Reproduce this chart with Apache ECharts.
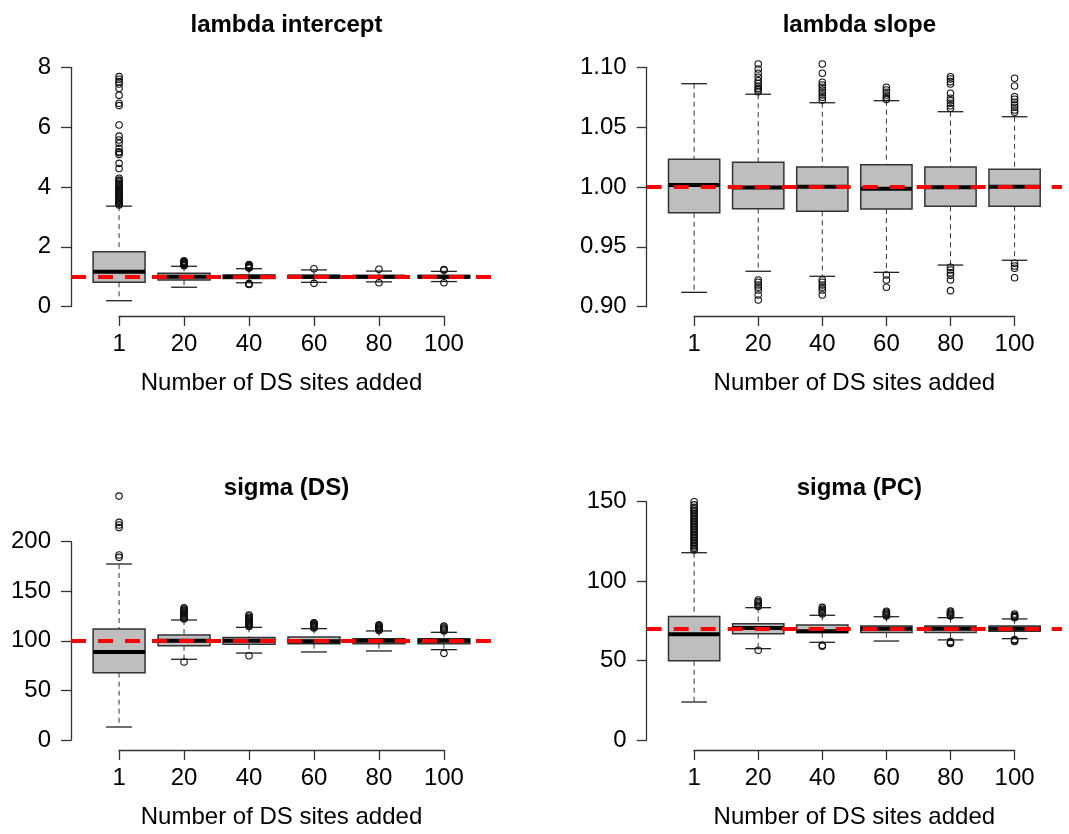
<!DOCTYPE html>
<html>
<head>
<meta charset="utf-8">
<script src="https://cdn.jsdelivr.net/npm/echarts@6/dist/echarts.min.js"></script>
<style>
html,body{margin:0;padding:0;background:#fff;}
#chart{width:1069px;height:834px;}
</style>
</head>
<body>
<div id="chart"></div>
<script>
// ---------------- DATA ----------------
const categories = ["1", "20", "40", "60", "80", "100"];
const panelTitles = ["lambda intercept", "lambda slope", "sigma (DS)", "sigma (PC)"];
const xAxisTitle = "Number of DS sites added";

// box statistics per category: [lower whisker, Q1, median, Q3, upper whisker]
const lambdaInterceptStats = [
  [0.20, 0.815, 1.17, 1.84, 3.36],
  [0.65, 0.89, 1.00, 1.12, 1.35],
  [0.80, 0.94, 1.00, 1.06, 1.27],
  [0.815, 0.95, 1.00, 1.05, 1.23],
  [0.83, 0.96, 1.00, 1.04, 1.19],
  [0.84, 0.96, 1.00, 1.04, 1.18]
];
const lambdaInterceptOutliers = [
  [3.40, 3.43, 3.46, 3.49, 3.52, 3.55, 3.58, 3.62, 3.66, 3.70, 3.73, 3.77, 3.81, 3.84, 3.88, 3.92, 3.96, 4.00, 4.04, 4.07, 4.12, 4.18, 4.23, 4.29, 4.62, 4.79, 5.09, 5.15, 5.18, 5.29, 5.46, 5.57, 5.70, 6.07, 6.72, 6.80, 7.07, 7.30, 7.44, 7.52, 7.60, 7.69],
  [1.37, 1.39, 1.41, 1.43, 1.45, 1.47, 1.49, 1.51, 1.53],
  [1.29, 1.31, 1.33, 1.35, 1.37, 1.39, 1.41, 0.77, 0.75, 0.74],
  [1.27, 0.78],
  [1.25, 0.80],
  [1.22, 1.24, 0.80]
];

const lambdaSlopeStats = [
  [0.9120, 0.9785, 1.0017, 1.0231, 1.0863],
  [0.9296, 0.9819, 0.9995, 1.0206, 1.0775],
  [0.9254, 0.9797, 1.0003, 1.0167, 1.0704],
  [0.9287, 0.9816, 0.9986, 1.0186, 1.0721],
  [0.9348, 0.9839, 0.9997, 1.0167, 1.0629],
  [0.9388, 0.9839, 1.0003, 1.0148, 1.0587]
];
const lambdaSlopeOutliers = [
  [],
  [1.0796, 1.0810, 1.0824, 1.0844, 1.0866, 1.0888, 1.0917, 1.0950, 1.0986, 1.1028, 0.9223, 0.9204, 0.9181, 0.9162, 0.9140, 0.9098, 0.9056],
  [1.0727, 1.0749, 1.0769, 1.0791, 1.0810, 1.0833, 1.0852, 1.0875, 1.0950, 1.1028, 0.9223, 0.9204, 0.9181, 0.9162, 0.9140, 0.9098],
  [1.0732, 1.0749, 1.0769, 1.0791, 1.0810, 1.0833, 0.9265, 0.9223, 0.9162],
  [1.0657, 1.0679, 1.0700, 1.0721, 1.0741, 1.0783, 1.0860, 1.0880, 1.0902, 1.0921, 0.9329, 0.9307, 0.9284, 0.9262, 0.9223, 0.9134],
  [1.0624, 1.0643, 1.0666, 1.0685, 1.0708, 1.0733, 1.0754, 1.0844, 1.0908, 0.9363, 0.9340, 0.9321, 0.9242]
];

const sigmaDSStats = [
  [13.1, 67.9, 88.8, 112.0, 177.5],
  [81.4, 95.1, 100.0, 105.9, 121.0],
  [87.7, 96.5, 100.0, 103.5, 113.6],
  [88.8, 97.2, 99.5, 103.9, 112.3],
  [89.8, 97.2, 100.0, 102.2, 110.0],
  [91.1, 97.2, 100.0, 102.2, 108.6]
];
const sigmaDSOutliers = [
  [184.2, 186.6, 214.2, 216.9, 219.5, 246.0],
  [122, 123, 124, 125, 126, 127, 128, 129, 130, 131, 132, 133.4, 78.7],
  [114.5, 115.5, 116.5, 117.5, 118.5, 119.5, 120.5, 121.5, 122.5, 123.5, 125, 126, 85],
  [113, 113.8, 114.6, 115.4, 116.2, 117, 117.8, 118.3],
  [110.5, 111.3, 112.1, 112.9, 113.7, 114.5, 115.3, 116.2],
  [110, 111, 112, 113, 114, 115, 87.4]
];

const sigmaPCStats = [
  [23.9, 49.9, 66.5, 77.8, 117.9],
  [57.5, 66.9, 70.5, 73.2, 83.3],
  [61.5, 67.6, 68.4, 72.4, 78.5],
  [62.3, 67.6, 70.0, 71.8, 77.6],
  [63.0, 67.6, 70.0, 71.8, 77.0],
  [63.8, 68.4, 70.0, 71.8, 76.2]
];
const sigmaPCOutliers = [
  [119.6, 120.5, 121.5, 122.5, 123.5, 124.5, 125.5, 126.5, 127.5, 128.5, 129.5, 130.5, 131.5, 132.5, 133.5, 134.5, 135.5, 136.5, 137.5, 138.5, 139.5, 140.5, 141.5, 142.5, 143.5, 144.5, 145.5, 146.5, 148, 150],
  [84, 84.8, 85.6, 86.4, 87.2, 88.1, 56.5],
  [79.3, 80, 80.8, 81.6, 82.4, 83.5, 59.6, 59.0],
  [78, 78.6, 79.2, 79.8, 80.4, 81],
  [78, 78.6, 79.2, 79.8, 80.4, 81.1, 61.9, 61.3, 60.8],
  [77, 77.5, 78, 78.5, 79.3, 63.2, 62.6, 62.0]
];

const referenceValues = [1.0, 1.0, 100, 70];
const yTickRanges = [[0, 8, 2], [0.90, 1.10, 0.05], [0, 200, 50], [0, 150, 50]];
const yTickDecimals = [0, 2, 0, 0];

// ---------------- LAYOUT ----------------
const panelStats = [lambdaInterceptStats, lambdaSlopeStats, sigmaDSStats, sigmaPCStats];
const panelOutliers = [lambdaInterceptOutliers, lambdaSlopeOutliers, sigmaDSOutliers, sigmaPCOutliers];

// plot regions: left/right = R plot region, top/bottom = y positions of the outer y ticks
const layout = [
  {left: 71, right: 492, top: 67.3, bottom: 306.7, xAxisY: 316, titleY: 8},
  {left: 646.7, right: 1062, top: 67.3, bottom: 306.7, xAxisY: 316, titleY: 8},
  {left: 71, right: 492, top: 541.7, bottom: 740, xAxisY: 750, titleY: 471},
  {left: 646.7, right: 1062, top: 501.7, bottom: 740, xAxisY: 750, titleY: 471}
];
const XMIN = 0.26, XMAX = 6.74, BOXWEX = 0.8;
const FONT = "'Liberation Sans', Arial, Helvetica, sans-serif";
const AXIS_COLOR = '#333';

const grids = [], xAxes = [], yAxes = [], series = [], titles = [];

function renderBox(params, api) {
  const x = api.value(0);
  const lo = api.coord([x, api.value(1)]);
  const q1 = api.coord([x, api.value(2)]);
  const med = api.coord([x, api.value(3)]);
  const q3 = api.coord([x, api.value(4)]);
  const hi = api.coord([x, api.value(5)]);
  const bw = api.size([BOXWEX, 0])[0];
  const sw = bw * 0.5;
  const cx = lo[0];
  const dashStyle = () => ({stroke: '#333', lineWidth: 1, lineDash: [5, 4], fill: null});
  const solid = () => ({stroke: '#222', lineWidth: 1.3, lineDash: null, fill: null});
  return {
    type: 'group',
    children: [
      {type: 'line', shape: {x1: cx, y1: hi[1], x2: cx, y2: q3[1]}, style: dashStyle()},
      {type: 'line', shape: {x1: cx, y1: q1[1], x2: cx, y2: lo[1]}, style: dashStyle()},
      {type: 'line', shape: {x1: cx - sw / 2, y1: hi[1], x2: cx + sw / 2, y2: hi[1]}, style: solid()},
      {type: 'line', shape: {x1: cx - sw / 2, y1: lo[1], x2: cx + sw / 2, y2: lo[1]}, style: solid()},
      {type: 'rect', shape: {x: cx - bw / 2, y: q3[1], width: bw, height: q1[1] - q3[1]},
        style: {fill: '#bebebe', stroke: '#333', lineWidth: 1.5, lineDash: null}},
      {type: 'line', shape: {x1: cx - bw / 2, y1: med[1], x2: cx + bw / 2, y2: med[1]},
        style: {stroke: '#000', lineWidth: 4, lineDash: null}}
    ]
  };
}

layout.forEach((L, p) => {
  const w = L.right - L.left;
  const h = L.bottom - L.top;
  const [ymin, ymax, yint] = yTickRanges[p];
  // data grid
  const gData = grids.length;
  grids.push({left: L.left, top: L.top, width: w, height: h, containLabel: false});
  xAxes.push({gridIndex: gData, type: 'value', min: XMIN, max: XMAX, show: false});
  yAxes.push({
    gridIndex: gData, type: 'value', min: ymin, max: ymax, interval: yint,
    axisLine: {show: true, lineStyle: {color: AXIS_COLOR, width: 1.3}},
    axisTick: {show: true, length: 10, lineStyle: {color: AXIS_COLOR, width: 1.3}},
    axisLabel: {margin: 20, fontSize: 24, color: '#000', fontFamily: FONT,
      formatter: v => v.toFixed(yTickDecimals[p])},
    splitLine: {show: false}
  });
  // axis grid for the x axis (spans the first to last category)
  const unit = w / (XMAX - XMIN);
  const gAxis = grids.length;
  grids.push({left: L.left + (1 - XMIN) * unit, top: L.xAxisY - 10, width: (categories.length - 1) * unit, height: 10});
  xAxes.push({
    gridIndex: gAxis, type: 'value', min: 1, max: categories.length, position: 'bottom',
    axisLine: {show: true, lineStyle: {color: AXIS_COLOR, width: 1.3}},
    axisTick: {show: true, length: 10, customValues: categories.map((c, i) => i + 1), lineStyle: {color: AXIS_COLOR, width: 1.3}},
    axisLabel: {margin: 16, fontSize: 24, color: '#000', fontFamily: FONT,
      customValues: categories.map((c, i) => i + 1),
      formatter: v => categories[Math.round(v) - 1]},
    splitLine: {show: false},
    name: xAxisTitle, nameLocation: 'middle', nameGap: 55,
    nameTextStyle: {fontSize: 24, color: '#000', fontFamily: FONT}
  });
  yAxes.push({gridIndex: gAxis, type: 'value', show: false, min: 0, max: 1});

  const xi = gData, yi = gData;
  series.push({
    type: 'custom',
    xAxisIndex: xi, yAxisIndex: yi,
    renderItem: renderBox,
    clip: false,
    encode: {x: 0, y: [1, 2, 3, 4, 5]},
    data: panelStats[p].map((s, i) => [i + 1].concat(s)),
    z: 2
  });
  const pts = [];
  panelOutliers[p].forEach((arr, i) => arr.forEach(v => pts.push([i + 1, v])));
  series.push({
    type: 'scatter',
    xAxisIndex: xi, yAxisIndex: yi,
    symbol: 'circle', symbolSize: 6.5,
    clip: false,
    itemStyle: {color: 'rgba(255,255,255,0)', borderColor: '#111', borderWidth: 1.1, opacity: 1},
    data: pts,
    z: 3
  });
  series.push({
    type: 'line',
    xAxisIndex: xi, yAxisIndex: yi,
    data: [],
    z: 5,
    markLine: {
      silent: true, symbol: ['none', 'none'],
      label: {show: false},
      lineStyle: {color: '#ff0000', width: 4, type: [15, 12], opacity: 1},
      data: [{yAxis: referenceValues[p]}]
    }
  });
  titles.push({
    text: panelTitles[p],
    left: (L.left + L.right) / 2, top: L.titleY, textAlign: 'center',
    textStyle: {fontSize: 24, fontWeight: 'bold', color: '#000', fontFamily: FONT}
  });
});

const chart = echarts.init(document.getElementById('chart'), null, {renderer: 'canvas'});
chart.setOption({
  animation: false,
  backgroundColor: '#fff',
  title: titles,
  grid: grids,
  xAxis: xAxes,
  yAxis: yAxes,
  series: series
});
</script>
</body>
</html>
